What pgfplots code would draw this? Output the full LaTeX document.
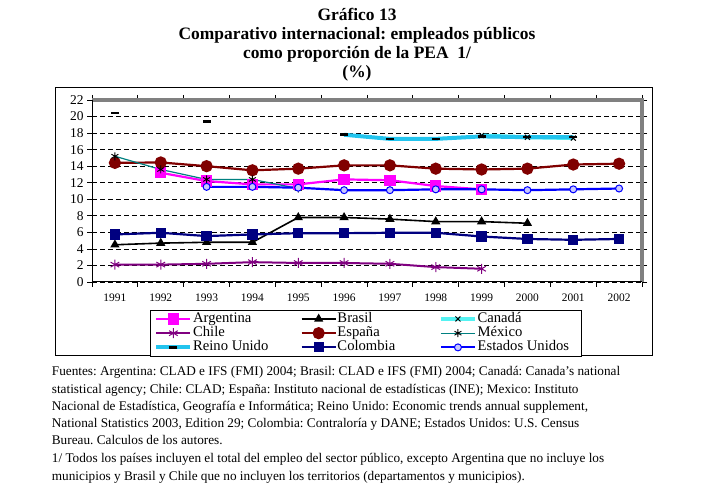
\documentclass[border=0pt]{standalone}
\usepackage{pgfplots}
\pgfplotsset{compat=1.18}
\usepackage{fontspec}
\setmainfont{Liberation Serif}
\definecolor{argc}{HTML}{FF00FF}
\definecolor{chilec}{HTML}{800080}
\definecolor{espc}{HTML}{800000}
\definecolor{mexc}{HTML}{008080}
\definecolor{canc}{HTML}{55F2F2}
\definecolor{ruc}{HTML}{22C4EE}
\definecolor{colc}{HTML}{000080}
\definecolor{usc}{HTML}{0000FF}
\definecolor{bgray}{HTML}{808080}
\begin{document}
\frenchspacing
\begin{tikzpicture}
\path[use as bounding box] (0bp,0bp) rectangle (711bp,502bp);
\begin{scope}[every node/.style={anchor=base, font=\fontsize{17.5}{19}\selectfont\bfseries, inner sep=0pt}]
\node at (357bp,481.3bp) {Gráfico 13};
\node at (357bp,462.7bp) {Comparativo internacional: empleados públicos};
\node at (357bp,443.7bp) {como proporción de la PEA\ \ 1/};
\node at (357bp,424.7bp) {(\%)};
\end{scope}
\draw[line width=1bp] (55bp,414bp) rectangle (652bp,146bp);
\begin{axis}[
  at={(92bp,220bp)}, anchor=south west,
  scale only axis, width=550bp, height=182bp,
  xmin=0.5, xmax=12.5, ymin=0, ymax=22,
  xtick={0.5,1.5,...,12.5}, xticklabels={},
  extra x ticks={1,2,...,12},
  extra x tick labels={1991,1992,1993,1994,1995,1996,1997,1998,1999,2000,2001,2002},
  extra x tick style={major tick length=0pt, grid=none},
  ytick={0,2,...,22},
  tick align=outside, major tick length=5bp,
  tick style={black, line width=0.8bp},
  ymajorgrids, xmajorgrids=false,
  grid style={black, line width=0.8bp, dash pattern=on 5bp off 3bp},
  axis line style={draw=none},
  clip=false, unbounded coords=jump,
  /pgf/number format/assume math mode=true,
  yticklabel style={font=\fontsize{13.5}{13.5}\selectfont},
  xticklabel style={font=\fontsize{11.5}{11.5}\selectfont, yshift=-8bp},
  legend columns=3,
  legend cell align=left,
  legend image code/.code={\draw[mark repeat=2,mark phase=2] plot coordinates {(0bp,0bp) (17bp,0bp) (34bp,0bp)};},
  legend style={at={(0.1055,-0.1538)}, anchor=north west, draw=black, line width=0.8bp,
    font=\fontsize{14.7}{14.5}\selectfont, row sep=0pt, inner xsep=4bp, inner ysep=1.5bp,
    nodes={inner sep=0.7bp, text height=9.8bp, text depth=3bp},
    /tikz/column 2/.style={column sep=31.5bp},
    /tikz/column 4/.style={column sep=43bp}},
]
% Argentina
\addplot[argc, line width=2.2bp, mark=square*, mark size=4.5bp, mark options={solid, fill=argc, draw=argc}]
  coordinates {(2,13.2) (3,12.2) (4,11.8) (5,11.8) (6,12.4) (7,12.3) (8,11.6) (9,11.2)};
\addlegendentry{Argentina}
% Brasil
\addplot[black, line width=1.6bp, mark=triangle*, mark size=3.8bp, mark options={solid, fill=black}]
  coordinates {(1,4.5) (2,4.7) (3,4.8) (4,4.8) (5,7.8) (6,7.8) (7,7.6) (8,7.3) (9,7.3) (10,7.1)};
\addlegendentry{Brasil}
% Canada
\addplot[canc, line width=4bp, mark=x, mark size=3.5bp, mark options={solid, black, line width=1bp}]
  coordinates {(9,17.7) (10,17.5) (11,17.4)};
\addlegendentry{Canadá}
% Chile
\addplot[chilec, line width=2bp, mark=asterisk, mark size=5bp, mark options={solid, chilec, line width=1bp}]
  coordinates {(1,2.1) (2,2.1) (3,2.2) (4,2.4) (5,2.3) (6,2.3) (7,2.2) (8,1.8) (9,1.6)};
\addlegendentry{Chile}
% Espana
\addplot[espc, line width=2.2bp, mark=*, mark size=5bp, mark options={solid, fill=espc, draw=espc}]
  coordinates {(1,14.4) (2,14.45) (3,14.0) (4,13.5) (5,13.7) (6,14.1) (7,14.1) (8,13.7) (9,13.6) (10,13.7) (11,14.2) (12,14.3)};
\addlegendentry{España}
% Mexico
\addplot[mexc, line width=1.2bp, mark=asterisk, mark size=4bp, mark options={solid, black, line width=0.9bp}]
  coordinates {(1,15.2) (2,13.6) (3,12.4) (4,12.4) (5,11.3)};
\addlegendentry{México}
% Reino Unido
\addplot[ruc, line width=4bp, mark=-, mark size=4bp, mark options={solid, black, line width=2.5bp}]
  table[row sep=\\] {x y\\ 1 20.4\\ 2 nan\\ 3 19.4\\ 4 nan\\ 5 nan\\ 6 17.8\\ 7 17.3\\ 8 17.3\\ 9 17.6\\ 10 17.5\\ 11 17.5\\};
\addlegendentry{Reino Unido}
% Colombia
\addplot[colc, line width=2.2bp, mark=square*, mark size=4bp, mark options={solid, fill=colc, draw=colc}]
  coordinates {(1,5.75) (2,5.95) (3,5.55) (4,5.75) (5,5.9) (6,5.9) (7,5.95) (8,5.95) (9,5.5) (10,5.2) (11,5.1) (12,5.2)};
\addlegendentry{Colombia}
% Estados Unidos
\addplot[usc, line width=2.2bp, mark=*, mark size=3.5bp, mark options={solid, fill=blue!22, draw=usc, line width=1bp}]
  coordinates {(3,11.5) (4,11.5) (5,11.4) (6,11.1) (7,11.1) (8,11.2) (9,11.2) (10,11.1) (11,11.2) (12,11.3)};
\addlegendentry{Estados Unidos\rule{8bp}{0pt}}
\draw[bgray, line width=3.5bp] (rel axis cs:0,1) -- (rel axis cs:1,1) -- (rel axis cs:1,0);
\draw[black, line width=1bp] (rel axis cs:0,1) -- (rel axis cs:0,0) -- (rel axis cs:1,0);
\end{axis}
\begin{scope}[every node/.style={anchor=base west, font=\fontsize{13.3}{14}\selectfont, inner sep=0pt}]
\node at (51.7bp,126bp) {Fuentes: Argentina: CLAD e IFS (FMI) 2004; Brasil: CLAD e IFS (FMI) 2004; Canadá: Canada's national};
\node at (51.7bp,108.7bp) {statistical agency; Chile: CLAD; España: Instituto nacional de estadísticas (INE); Mexico: Instituto};
\node at (51.7bp,91.3bp) {Nacional de Estadística, Geografía e Informática; Reino Unido: Economic trends annual supplement,};
\node at (51.7bp,74.7bp) {National Statistics 2003, Edition 29; Colombia: Contraloría y DANE; Estados Unidos: U.S. Census};
\node at (51.7bp,57bp) {Bureau. Calculos de los autores.};
\node at (51.7bp,39.7bp) {1/ Todos los países incluyen el total del empleo del sector público, excepto Argentina que no incluye los};
\node at (51.7bp,22bp) {municipios y Brasil y Chile que no incluyen los territorios (departamentos y municipios).};
\end{scope}
\end{tikzpicture}
\end{document}
